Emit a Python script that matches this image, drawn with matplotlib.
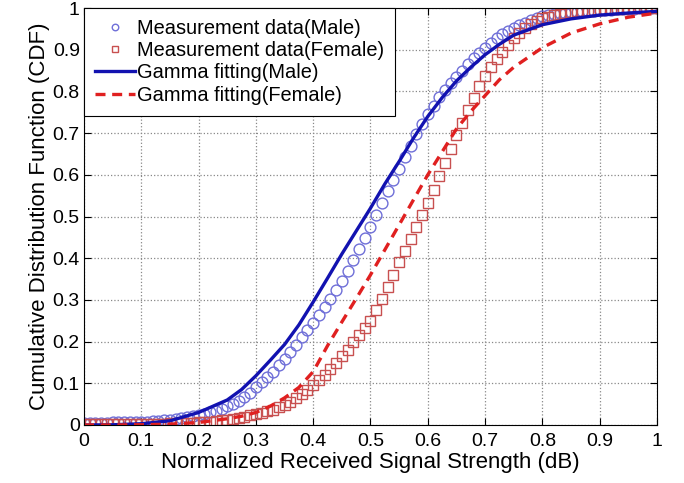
import numpy as np
import matplotlib
matplotlib.use('Agg')
import matplotlib.pyplot as plt

plt.rcParams['font.family'] = ['Liberation Sans', 'DejaVu Sans']

# measured CDF points, x = 0.00 .. 1.00 step 0.01
x_meas = np.round(np.arange(0, 101) * 0.01, 2)
male_meas = [
    0.004, 0.004, 0.005, 0.005, 0.005, 0.006, 0.006, 0.006, 0.007, 0.007,
    0.008, 0.008, 0.009, 0.010, 0.011, 0.013, 0.014, 0.016, 0.018, 0.021,
    0.024, 0.027, 0.030, 0.034, 0.039, 0.045, 0.051, 0.058, 0.066, 0.077,
    0.090, 0.102, 0.115, 0.128, 0.143, 0.158, 0.174, 0.192, 0.210, 0.227,
    0.245, 0.264, 0.283, 0.303, 0.323, 0.345, 0.370, 0.395, 0.422, 0.448,
    0.475, 0.503, 0.532, 0.560, 0.588, 0.615, 0.642, 0.670, 0.697, 0.722,
    0.745, 0.766, 0.786, 0.804, 0.820, 0.835, 0.850, 0.865, 0.880, 0.893,
    0.905, 0.916, 0.927, 0.937, 0.945, 0.952, 0.959, 0.965, 0.971, 0.976,
    0.980, 0.983, 0.985, 0.987, 0.989, 0.990, 0.991, 0.992, 0.993, 0.994,
    0.995, 0.996, 0.996, 0.997, 0.997, 0.998, 0.998, 0.999, 0.999, 0.999,
    1.000]
female_meas = [
    0.002, 0.002, 0.002, 0.002, 0.002, 0.002, 0.002, 0.002, 0.003, 0.003,
    0.003, 0.003, 0.003, 0.003, 0.003, 0.004, 0.004, 0.004, 0.005, 0.005,
    0.006, 0.007, 0.008, 0.009, 0.011, 0.013, 0.015, 0.017, 0.020, 0.023,
    0.026, 0.029, 0.033, 0.037, 0.042, 0.048, 0.056, 0.065, 0.075, 0.085,
    0.095, 0.107, 0.120, 0.134, 0.149, 0.165, 0.181, 0.198, 0.215, 0.232,
    0.250, 0.275, 0.302, 0.330, 0.360, 0.390, 0.418, 0.446, 0.474, 0.503,
    0.532, 0.564, 0.596, 0.628, 0.661, 0.695, 0.725, 0.755, 0.785, 0.812,
    0.837, 0.858, 0.877, 0.895, 0.912, 0.927, 0.940, 0.951, 0.961, 0.969,
    0.975, 0.979, 0.983, 0.986, 0.988, 0.990, 0.992, 0.993, 0.994, 0.995,
    0.996, 0.997, 0.997, 0.998, 0.998, 0.999, 0.999, 0.999, 0.999, 1.000,
    1.000]

# gamma fit curves
x_fit = [0, 0.05, 0.1, 0.15, 0.2, 0.25, 0.275, 0.3, 0.325, 0.35, 0.375, 0.4,
         0.425, 0.45, 0.475, 0.5, 0.525, 0.55, 0.575, 0.6, 0.625, 0.65, 0.675,
         0.7, 0.725, 0.75, 0.8, 0.85, 0.9, 0.95, 1.0]
male_fit = [0.0, 0.0005, 0.003, 0.01, 0.03, 0.06, 0.085, 0.118, 0.155, 0.193,
            0.24, 0.295, 0.352, 0.41, 0.465, 0.52, 0.578, 0.632, 0.688, 0.74,
            0.785, 0.825, 0.858, 0.888, 0.913, 0.935, 0.96, 0.974, 0.983, 0.988,
            0.992]
female_fit = [0.0, 0.0, 0.0005, 0.002, 0.006, 0.015, 0.021, 0.03, 0.045, 0.065,
              0.09, 0.128, 0.19, 0.247, 0.303, 0.36, 0.42, 0.48, 0.54, 0.60,
              0.655, 0.71, 0.752, 0.79, 0.828, 0.858, 0.905, 0.94, 0.962,
              0.978, 0.988]

fig = plt.figure(figsize=(6.84, 4.83), dpi=100)
ax = fig.add_axes([0.1228, 0.1201, 0.8377, 0.8633])

ax.plot(x_meas, male_meas, 'o', ms=7.8, mfc='none', mec='#6f6fd8', mew=1.0,
        label='Measurement data(Male)')
ax.plot(x_meas, female_meas, 's', ms=6.6, mfc='none', mec='#c85050', mew=1.0,
        label='Measurement data(Female)')
ax.plot(x_fit, male_fit, '-', color='#1212b0', lw=2.4,
        label='Gamma fitting(Male)')
ax.plot(x_fit, female_fit, '--', color='#e02020', lw=2.4, dashes=(3, 2),
        label='Gamma fitting(Female)')

ax.set_xlim(0, 1)
ax.set_ylim(0, 1)
ticks = np.round(np.arange(0, 11) * 0.1, 1)
labels = ['0'] + ['%.1f' % t for t in ticks[1:-1]] + ['1']
ax.set_xticks(ticks)
ax.set_xticklabels(labels)
ax.set_yticks(ticks)
ax.set_yticklabels(labels)
ax.tick_params(direction='in', top=True, right=True, labelsize=14, length=5)
ax.tick_params(axis='x', pad=6)
ax.tick_params(axis='y', pad=3)
ax.grid(True, linestyle=':', color='#888888', lw=0.9)
for s in ax.spines.values():
    s.set_linewidth(0.8)

ax.set_xlabel('Normalized Received Signal Strength (dB)', fontsize=16, labelpad=1)
ax.set_ylabel('Cumulative Distribution Function (CDF)', fontsize=16, labelpad=2)

leg = ax.legend(loc='upper left', fontsize=14.4, borderaxespad=0, fancybox=False,
                edgecolor='black', framealpha=1, handlelength=2.0,
                handletextpad=0.1, borderpad=0.55, labelspacing=0.16, markerscale=0.6)
leg.get_frame().set_linewidth(0.8)

fig.savefig('out.png', dpi=100)
